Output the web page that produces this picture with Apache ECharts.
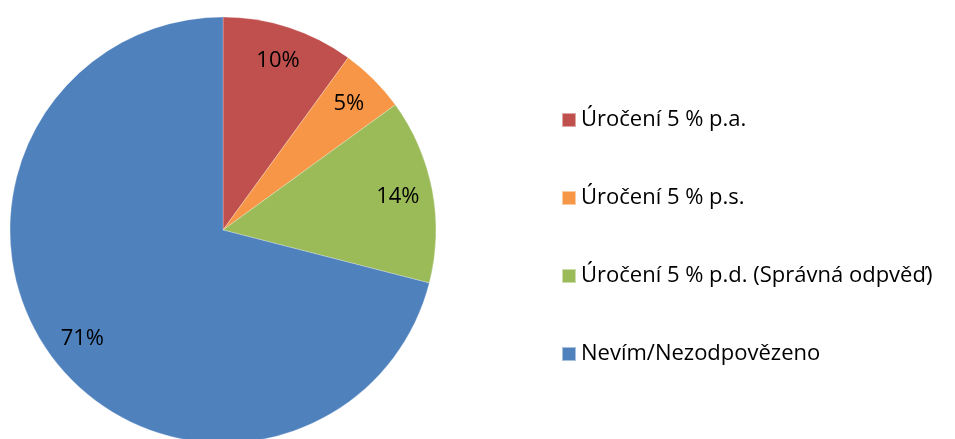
<!DOCTYPE html>
<html>
<head>
<meta charset="utf-8">
<script src="https://cdn.jsdelivr.net/npm/echarts@6/dist/echarts.min.js"></script>
<style>html,body{margin:0;padding:0;background:#fff}#c{width:955px;height:439px}</style>
</head>
<body>
<div id="c"></div>
<script>
const categories = ["Úročení 5 % p.a.", "Úročení 5 % p.s.", "Úročení 5 % p.d. (Správná odpvěď)", "Nevím/Nezodpovězeno"];
const values = [10, 5, 14, 71];
const colors = ["#C0504D", "#F79646", "#9BBB59", "#4F81BD"];

const data = categories.map((n, i) => ({ name: n, value: values[i], itemStyle: { color: colors[i] } }));
const font = "'Open Sans', 'Liberation Sans', sans-serif";
const chart = echarts.init(document.getElementById('c'));
chart.setOption({
  animation: false,
  legend: {
    orient: 'vertical', left: 556, top: 104,
    itemWidth: 14, itemHeight: 14, itemGap: 56,
    icon: 'rect',
    textStyle: { fontSize: 22, lineHeight: 20, color: '#000', fontFamily: font },
    data: categories
  },
  series: [
    {
      type: 'pie', center: [223, 230], radius: [0, 213], startAngle: 90,
      label: { show: false }, labelLine: { show: false },
      itemStyle: { borderColor: 'rgba(255,255,255,0.5)', borderWidth: 0.5 },
      data: data
    },
    {
      type: 'pie', center: [223, 230], radius: [137, 213], startAngle: 90,
      silent: true, legendHoverLink: false,
      itemStyle: { color: 'rgba(0,0,0,0)' },
      label: { show: true, position: 'inside', formatter: '{d}%', fontSize: 22, color: '#000', fontFamily: font },
      labelLine: { show: false },
      data: categories.map((n, i) => ({ name: n, value: values[i] }))
    }
  ]
});
</script>
</body>
</html>
